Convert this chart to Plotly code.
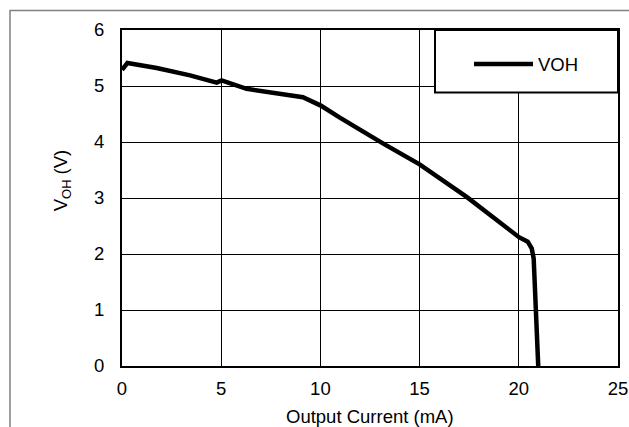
import plotly.graph_objects as go

# Data
current_mA = [0.0, 0.27, 1.75, 3.43, 4.77, 5.02, 6.28, 9.12, 10.02, 11.0, 13.17, 15.0,
              17.37, 20.01, 20.45, 20.65, 20.75, 20.85, 20.98]
voh_V = [5.29, 5.41, 5.32, 5.19, 5.06, 5.10, 4.95, 4.80, 4.65, 4.43, 3.97, 3.60,
         3.02, 2.30, 2.22, 2.10, 1.92, 1.00, 0.0]
x_ticks = [0, 5, 10, 15, 20, 25]
y_ticks = [0, 1, 2, 3, 4, 5, 6]
x_title = "Output Current (mA)"
y_title = "V<sub>OH</sub> (V)"

FONT = "Liberation Sans, Arial, sans-serif"
FS = 18.5

fig = go.Figure()
fig.add_trace(go.Scatter(x=current_mA, y=voh_V, mode="lines", name="VOH",
                         line=dict(color="black", width=4.5)))

W, H = 629, 427
ml, mr, mt, mb = 122, 11, 29.5, 61
pw, ph = W - ml - mr, H - mt - mb

def px_x(p):
    return (p - ml) / pw

def px_y(p):
    return (H - mb - p) / ph

fig.update_layout(
    width=W, height=H,
    margin=dict(l=ml, r=mr, t=mt, b=mb, pad=0, autoexpand=False),
    paper_bgcolor="white", plot_bgcolor="white",
    font=dict(family=FONT, size=FS, color="black"),
    showlegend=True,
    legend=dict(x=px_x(469), y=px_y(45), xanchor="left", yanchor="top",
                bgcolor="rgba(0,0,0,0)", borderwidth=0, itemwidth=59,
                font=dict(family=FONT, size=FS, color="black")),
    xaxis=dict(range=[0, 25], tickvals=x_ticks, showgrid=True, gridcolor="black",
               gridwidth=1, showline=True, linecolor="black", linewidth=2, mirror=True,
               zeroline=False, ticks="", ticklabelstandoff=5, automargin=False),
    yaxis=dict(range=[0, 6], tickvals=y_ticks, showgrid=True, gridcolor="black",
               gridwidth=1, showline=True, linecolor="black", linewidth=2, mirror=True,
               zeroline=False, ticks="", ticklabelstandoff=12, automargin=False),
    annotations=[
        dict(text=x_title, xref="paper", yref="paper", x=0.5, y=px_y(417),
             xanchor="center", yanchor="middle", showarrow=False,
             font=dict(family=FONT, size=FS, color="black")),
        dict(text=y_title, xref="paper", yref="paper", x=px_x(62), y=px_y(180),
             xanchor="center", yanchor="middle", showarrow=False, textangle=-90,
             font=dict(family=FONT, size=FS, color="black")),
    ],
    shapes=[
        # outer frame (top and left)
        dict(type="path", xref="paper", yref="paper",
             path=f"M {px_x(10)},{px_y(430)} L {px_x(10)},{px_y(10)} L {px_x(632)},{px_y(10)}",
             line=dict(color="#808080", width=1.5)),
        # legend box
        dict(type="rect", xref="paper", yref="paper",
             x0=px_x(435), x1=1, y0=px_y(92), y1=1,
             fillcolor="white", line=dict(color="black", width=2), layer="above"),
    ],
)

fig.write_html("out.html", config={"displayModeBar": False},
               post_script="document.body.style.margin='0';")
